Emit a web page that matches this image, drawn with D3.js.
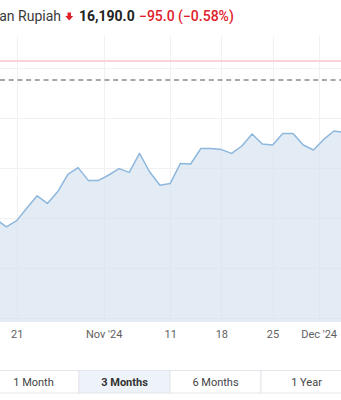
<!DOCTYPE html>
<html>
<head>
<meta charset="utf-8">
<script src="https://cdn.jsdelivr.net/npm/d3@7"></script>
<style>
  body { margin: 0; background: #fff; overflow: hidden; }
  svg { display: block; font-family: Roboto, "Open Sans", sans-serif; }
</style>
</head>
<body>
<div id="graphic"></div>
<script>
// trading days shown in the 3 month window (cropped view)
var dates = [
    "2024-10-17", "2024-10-18",
    "2024-10-21", "2024-10-22", "2024-10-23", "2024-10-24", "2024-10-25",
    "2024-10-28", "2024-10-29", "2024-10-30", "2024-10-31", "2024-11-01",
    "2024-11-04", "2024-11-05", "2024-11-06", "2024-11-07", "2024-11-08",
    "2024-11-11", "2024-11-12", "2024-11-13", "2024-11-14", "2024-11-15",
    "2024-11-18", "2024-11-19", "2024-11-20", "2024-11-21", "2024-11-22",
    "2024-11-25", "2024-11-26", "2024-11-27", "2024-11-28", "2024-11-29",
    "2024-12-02", "2024-12-03", "2024-12-04"
];
var closes = [
    15492, 15456,
    15487, 15550, 15611, 15573, 15631,
    15718, 15752, 15688, 15688, 15715,
    15747, 15728, 15823, 15730, 15664,
    15673, 15773, 15770, 15848, 15848,
    15842, 15823, 15860, 15920, 15870,
    15865, 15923, 15923, 15865, 15840,
    15893, 15935, 15928
];
var yTicks = [15000, 15250, 15500, 15750, 16000, 16250];
var dayTicks = ["2024-10-21", "2024-11-11", "2024-11-18", "2024-11-25"];
var dayLabels = ["21", "11", "18", "25"];
var monthTicks = ["2024-11-01", "2024-12-02"];
var monthLabels = ["Nov '24", "Dec '24"];
var ranges = ["1 Month", "3 Months", "6 Months", "1 Year"];
var activeRange = "3 Months";

var lastPrice = 16190.0,
    prevClose = 16285.0,
    change = -95.0,
    changePct = -0.58;

var width = 341,
    height = 400;

function drawChart() {

    var plot = { top: 36, bottom: 322 };

    var svg = d3.select("#graphic").append("svg")
        .attr("width", width)
        .attr("height", height);

    var x = d3.scaleLinear()
        .domain([0, dates.length - 1])
        .range([-3.8, 344.2]);

    var y = d3.scaleLinear()
        .domain([14980, 16250])
        .range([plot.bottom, 68]);

    var idx = function (d) { return dates.indexOf(d); };

    // header (title is cut by the left edge, as in the page crop)
    svg.append("text")
        .attr("x", 61)
        .attr("y", 21)
        .attr("text-anchor", "end")
        .attr("font-size", 14)
        .attr("fill", "#3a3a3a")
        .text("US Dollar Indonesian Rupiah");
    svg.append("path")
        .attr("d", "M67.5,12.5h3.5v3.5h2.2l-3.95,4.4l-3.95,-4.4h2.2z")
        .attr("fill", "#e0212b");
    svg.append("text")
        .attr("x", 79)
        .attr("y", 21)
        .attr("font-size", 14)
        .attr("font-weight", 700)
        .attr("fill", "#222")
        .text(d3.format(",.1f")(lastPrice));
    svg.append("text")
        .attr("x", 139)
        .attr("y", 21)
        .attr("font-size", 14)
        .attr("font-weight", 500)
        .attr("fill", "#e0212b")
        .text(d3.format(".1f")(change) + " (" + d3.format(".2f")(changePct) + "%)");

    // grid
    var grid = svg.append("g").attr("class", "grid");
    grid.selectAll("line.h")
        .data(yTicks)
        .enter().append("line")
        .attr("x1", 0).attr("x2", width)
        .attr("y1", function (d) { return y(d) + 0.5; })
        .attr("y2", function (d) { return y(d) + 0.5; })
        .attr("stroke", "#f1f1f1");

    var vTicks = dayTicks.map(idx).concat(monthTicks.map(function (d) { return idx(d) - 0.5; }));
    grid.selectAll("line.v")
        .data(vTicks)
        .enter().append("line")
        .attr("x1", function (d) { return Math.round(x(d)) + 0.5; })
        .attr("x2", function (d) { return Math.round(x(d)) + 0.5; })
        .attr("y1", plot.top).attr("y2", plot.bottom)
        .attr("stroke", "#f1f1f1");

    // area + line
    var area = d3.area()
        .x(function (d, i) { return x(i); })
        .y0(plot.bottom)
        .y1(function (d) { return y(d); });
    var line = d3.line()
        .x(function (d, i) { return x(i); })
        .y(function (d) { return y(d); });

    svg.append("path")
        .datum(closes)
        .attr("d", area)
        .attr("fill", "#d4e2f0")
        .attr("fill-opacity", 0.65);

    svg.append("path")
        .datum(closes)
        .attr("d", line)
        .attr("fill", "none")
        .attr("stroke", "#8db7dd")
        .attr("stroke-width", 1.5)
        .attr("stroke-linejoin", "round");

    // previous close and last price
    svg.append("line")
        .attr("x1", 0).attr("x2", width)
        .attr("y1", y(prevClose)).attr("y2", y(prevClose))
        .attr("stroke", "#fcd3d8")
        .attr("stroke-width", 2);
    svg.append("line")
        .attr("x1", 0).attr("x2", width)
        .attr("y1", y(lastPrice)).attr("y2", y(lastPrice))
        .attr("stroke", "#8a8a8a")
        .attr("stroke-width", 1.3)
        .attr("stroke-dasharray", "5,3.7");

    // x axis labels
    var xAxis = d3.axisBottom(x)
        .tickValues(vTicks)
        .tickSize(0)
        .tickPadding(8)
        .tickFormat(function (d) {
            var k = dayTicks.map(idx).indexOf(d);
            if (k >= 0) return dayLabels[k];
            return monthLabels[monthTicks.map(idx).indexOf(d + 0.5)];
        });
    var gx = svg.append("g")
        .attr("transform", "translate(0," + plot.bottom + ")")
        .call(xAxis);
    gx.select(".domain").remove();
    gx.selectAll("text")
        .attr("font-family", "Roboto, sans-serif")
        .attr("font-size", 11)
        .attr("fill", "#5f5f5f");

    // range buttons
    var btnW = 91,
        btnX = d3.scaleLinear().domain([0, 1]).range([-12, -12 + btnW]);
    var btn = svg.append("g").selectAll("g")
        .data(ranges)
        .enter().append("g")
        .attr("transform", function (d, i) { return "translate(" + btnX(i) + ",370.5)"; });
    btn.append("rect")
        .attr("width", btnW)
        .attr("height", 22.5)
        .attr("fill", function (d) { return d === activeRange ? "#eef3fa" : "#fff"; })
        .attr("stroke", "#e3e6ea");
    btn.append("text")
        .attr("x", btnW / 2)
        .attr("y", 15.5)
        .attr("text-anchor", "middle")
        .attr("font-size", 11)
        .attr("font-weight", function (d) { return d === activeRange ? 700 : 400; })
        .attr("fill", function (d) { return d === activeRange ? "#333" : "#444"; })
        .text(function (d) { return d; });
}

drawChart();
</script>
</body>
</html>
